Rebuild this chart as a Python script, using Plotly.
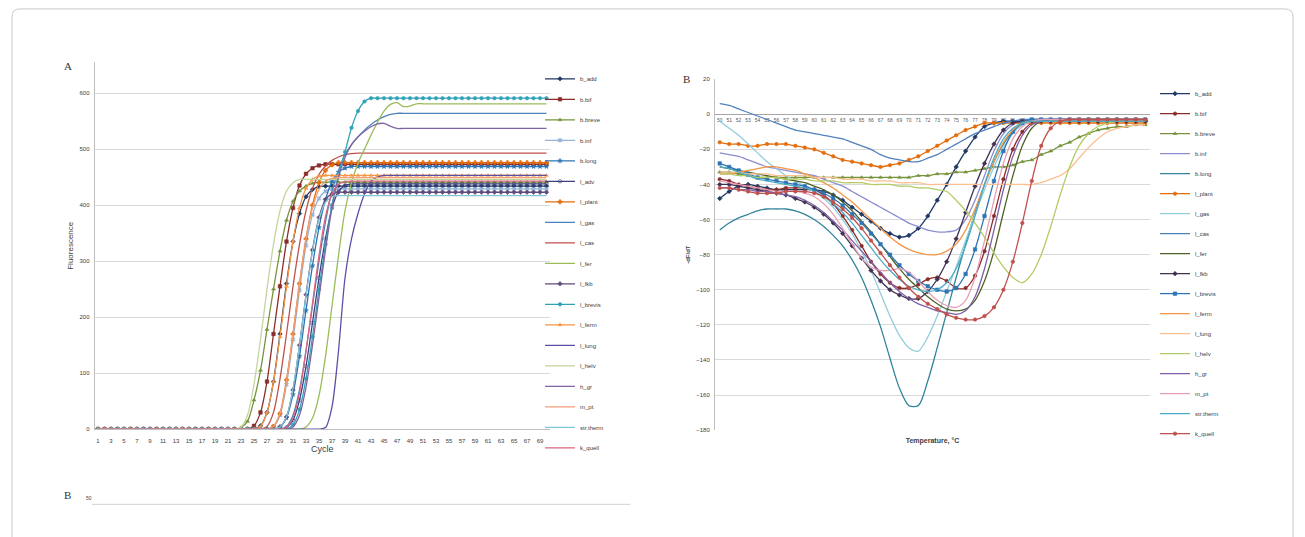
import plotly.graph_objects as go

# ---------------- Panel A: amplification curves ----------------
N_CYCLES = 70
CYCLES = list(range(1, N_CYCLES + 1))
CYCLE_TICKS = list(range(1, 70, 2))
FLUOR_TICKS = [0, 100, 200, 300, 400, 500, 600]


def amp(lead, rise):
    """Baseline of zeros for `lead` cycles, the measured rise, then the plateau held."""
    return [0] * lead + rise + [rise[-1]] * (N_CYCLES - lead - len(rise))


AMP_B_ADD = amp(25, [6, 30, 85, 170, 260, 335, 385, 415, 428, 433, 434])
AMP_B_BIF = amp(24, [6, 30, 85, 170, 255, 335, 395, 435, 456, 466, 471, 473])
AMP_B_BREVE = amp(22, [3, 14, 52, 105, 178, 250, 318, 373, 407, 425, 434, 439, 441])
AMP_B_INF = amp(27, [5, 25, 80, 160, 248, 328, 383, 412, 425, 429])
AMP_B_LONG = amp(28, [4, 20, 62, 130, 212, 292, 360, 410, 442, 459, 466, 469])
AMP_L_ADV = amp(29, [3, 16, 52, 112, 190, 270, 340, 395, 424, 435, 438])
AMP_L_PLANT = amp(27, [5, 28, 88, 170, 260, 340, 400, 440, 462, 472, 476])
AMP_L_GAS = amp(29, [5, 25, 70, 140, 220, 300, 370, 425, 462, 490, 508, 522, 534, 544, 552, 558, 562, 564])
AMP_L_CAS = amp(26, [5, 30, 90, 170, 255, 330, 390, 430, 455, 470, 480, 486, 490, 492, 493])
AMP_L_FER = amp(32, [4, 20, 60, 130, 220, 310, 390, 440, 475, 500, 525, 548, 568, 580, 583, 576, 577, 581])
AMP_L_FKB = amp(28, [4, 22, 70, 150, 240, 320, 378, 410, 420, 423])
AMP_L_BREVIS = amp(30, [8, 35, 90, 165, 250, 330, 400, 455, 495, 538, 568, 585, 591])
AMP_L_FERM = amp(25, [5, 30, 85, 165, 255, 335, 395, 430, 446, 452, 453])
AMP_L_LUNG = amp(35, [3, 40, 140, 270, 340, 385, 420, 443, 450, 453])
AMP_L_HELV = amp(22, [4, 25, 80, 160, 250, 330, 390, 425, 440, 446])
AMP_H_GR = amp(30, [4, 25, 75, 150, 235, 320, 395, 450, 485, 508, 522, 532, 540, 545, 546, 541, 537])
AMP_M_PT = amp(27, [5, 28, 85, 170, 260, 340, 395, 428, 443, 448, 449])
AMP_STR_THERM = amp(28, [4, 22, 72, 150, 238, 318, 375, 405, 415, 417])
AMP_K_QUELL = amp(29, [4, 20, 65, 140, 225, 310, 380, 420, 437, 442, 443])

# name, values, colour, marker symbol (None = plain line)
AMP_SERIES = [
    ("b_add", AMP_B_ADD, "#1F3864", "diamond"),
    ("b.bif", AMP_B_BIF, "#8B2C2A", "square"),
    ("b.breve", AMP_B_BREVE, "#77933C", "triangle-up"),
    ("b.inf", AMP_B_INF, "#95B3D7", "x"),
    ("b.long", AMP_B_LONG, "#2E75B6", "star"),
    ("l_adv", AMP_L_ADV, "#3F3F7F", "circle-open"),
    ("l_plant", AMP_L_PLANT, "#E46C0A", "cross"),
    ("l_gas", AMP_L_GAS, "#4F81BD", None),
    ("l_cas", AMP_L_CAS, "#C0504D", None),
    ("l_fer", AMP_L_FER, "#9BBB59", None),
    ("l_fkb", AMP_L_FKB, "#604A7B", "diamond"),
    ("l_brevis", AMP_L_BREVIS, "#31A2B8", "circle"),
    ("l_ferm", AMP_L_FERM, "#F79646", "triangle-up"),
    ("l_lung", AMP_L_LUNG, "#5B4FA8", None),
    ("l_helv", AMP_L_HELV, "#C3D69B", None),
    ("h_gr", AMP_H_GR, "#8064A2", None),
    ("m_pt", AMP_M_PT, "#F2A07B", None),
    ("str.therm", AMP_STR_THERM, "#7FC6D6", None),
    ("k_quell", AMP_K_QUELL, "#D9667F", None),
]

# ---------------- Panel B: melting curves (-dF/dT) ----------------
TEMPS = list(range(50, 96))
DFDT_TICKS = list(range(-180, 21, 20))

MELT_B_ADD = [-48, -44, -41, -40, -41, -42, -43, -43, -43, -43, -43, -44, -46, -49, -53, -57,
              -61, -65, -68, -70, -69, -65, -58, -49, -40, -30, -21, -13, -7, -5, -4,
              -4, -4, -4, -4, -4, -4, -4, -4, -4, -4, -4, -4, -4, -4, -4]
MELT_B_BIF = [-37, -38, -40, -41, -42, -43, -43, -42, -42, -42, -43, -46, -51, -58, -66, -75,
              -84, -91, -96, -99, -99, -97, -94, -93, -95, -99, -99, -92, -78, -58, -37,
              -20, -10, -5, -4, -4, -4, -4, -4, -4, -4, -4, -4, -4, -4, -4]
MELT_B_BREVE = [-33, -33, -34, -35, -36, -36, -36, -36, -36, -36, -36, -36, -36, -36, -36, -36,
                -36, -36, -36, -36, -36, -35, -35, -34, -34, -33, -33, -32, -31, -30, -30,
                -29, -27, -26, -23, -21, -18, -16, -13, -11, -9, -8, -7, -7, -6, -6]
MELT_B_INF = [-22, -23, -24, -26, -28, -30, -31, -32, -33, -34, -35, -37, -39, -41, -44, -47,
              -50, -53, -56, -59, -62, -64, -66, -67, -67, -66, -60, -49, -35, -21, -11,
              -6, -4, -3, -3, -3, -3, -3, -3, -3, -3, -3, -3, -3, -3, -3]
MELT_B_LONG = [-66, -62, -59, -57, -55, -54, -54, -54, -55, -57, -60, -64, -69, -75, -83, -93,
               -106, -121, -139, -156, -166, -166, -152, -133, -113, -93, -74, -56, -40, -27, -17,
               -10, -6, -4, -3, -3, -3, -3, -3, -3, -3, -3, -3, -3, -3, -3]
MELT_L_PLANT = [-16, -17, -17, -18, -18, -17, -17, -17, -18, -19, -20, -22, -24, -26, -27, -28,
                -29, -30, -29, -28, -26, -24, -21, -18, -15, -12, -9, -7, -5, -5, -5,
                -5, -5, -5, -5, -5, -5, -5, -5, -5, -5, -5, -5, -5, -5, -5]
MELT_L_GAS = [-4, -8, -12, -17, -22, -27, -31, -35, -38, -41, -44, -48, -53, -60, -68, -78,
              -89, -102, -115, -126, -133, -135, -127, -115, -101, -87, -72, -57, -43, -30, -19,
              -11, -6, -4, -3, -3, -3, -3, -3, -3, -3, -3, -3, -3, -3, -3]
MELT_L_CAS = [6, 5, 3, 1, -1, -3, -5, -7, -9, -10, -11, -12, -13, -14, -16, -18,
              -20, -23, -25, -26, -27, -27, -25, -23, -20, -17, -14, -11, -9, -7, -5,
              -4, -3, -3, -3, -3, -3, -3, -3, -3, -3, -3, -3, -3, -3, -3]
MELT_L_FER = [-30, -31, -32, -33, -34, -35, -36, -37, -38, -39, -41, -43, -46, -50, -55, -61,
              -67, -74, -81, -88, -94, -99, -104, -108, -111, -112, -111, -106, -95, -78, -56,
              -35, -18, -8, -4, -3, -3, -3, -3, -3, -3, -3, -3, -3, -3, -3]
MELT_L_FKB = [-40, -40, -41, -42, -43, -44, -45, -46, -48, -50, -53, -57, -62, -68, -75, -82,
              -89, -95, -100, -103, -105, -105, -101, -94, -84, -71, -56, -41, -28, -17, -9,
              -5, -4, -4, -4, -4, -4, -4, -4, -4, -4, -4, -4, -4, -4, -4]
MELT_L_BREVIS = [-28, -30, -32, -34, -36, -37, -38, -39, -40, -41, -43, -45, -48, -52, -57, -62,
                 -68, -74, -80, -86, -91, -95, -98, -100, -101, -99, -91, -77, -58, -38, -21,
                 -10, -5, -3, -3, -3, -3, -3, -3, -3, -3, -3, -3, -3, -3, -3]
MELT_L_FERM = [-34, -34, -33, -32, -31, -30, -30, -31, -32, -34, -36, -39, -42, -46, -50, -55,
               -60, -65, -70, -74, -77, -79, -80, -80, -78, -74, -66, -54, -40, -27, -16,
               -9, -5, -4, -4, -4, -4, -4, -4, -4, -4, -4, -4, -4, -4, -4]
MELT_L_LUNG = [-33, -33, -33, -34, -34, -34, -35, -35, -35, -35, -36, -36, -36, -37, -37, -37,
               -38, -38, -38, -39, -39, -39, -40, -40, -40, -40, -40, -40, -40, -40, -40,
               -40, -40, -40, -39, -37, -35, -31, -25, -19, -14, -10, -8, -7, -6, -6]
MELT_L_HELV = [-34, -34, -35, -35, -36, -36, -36, -37, -37, -37, -38, -38, -38, -39, -39, -39,
               -40, -40, -40, -41, -41, -42, -42, -43, -44, -49, -55, -62, -70, -79, -87,
               -93, -96, -91, -80, -64, -46, -30, -18, -11, -7, -5, -4, -4, -4, -4]
MELT_H_GR = [-42, -42, -43, -43, -44, -44, -45, -46, -47, -49, -52, -56, -61, -66, -72, -78,
             -84, -90, -96, -101, -105, -108, -110, -112, -113, -114, -112, -104, -88, -66, -43,
             -24, -12, -6, -4, -3, -3, -3, -3, -3, -3, -3, -3, -3, -3, -3]
MELT_M_PT = [-38, -39, -40, -41, -42, -43, -44, -44, -44, -45, -47, -51, -57, -65, -74, -82,
             -87, -89, -89, -88, -90, -95, -101, -106, -109, -110, -106, -93, -72, -49, -28,
             -14, -7, -4, -3, -3, -3, -3, -3, -3, -3, -3, -3, -3, -3, -3]
MELT_STR_THERM = [-30, -31, -33, -35, -37, -38, -39, -40, -41, -42, -44, -47, -51, -56, -62, -69,
                  -76, -83, -89, -94, -98, -100, -101, -100, -96, -88, -75, -58, -40, -25, -14,
                  -8, -5, -4, -4, -4, -4, -4, -4, -4, -4, -4, -4, -4, -4, -4]
MELT_K_QUELL = [-42, -42, -43, -44, -45, -45, -45, -44, -44, -44, -45, -47, -50, -54, -59, -65,
                -72, -79, -86, -93, -99, -104, -108, -111, -114, -116, -117, -117, -115, -110, -100,
                -84, -62, -38, -18, -8, -4, -3, -3, -3, -3, -3, -3, -3, -3, -3]

MELT_SERIES = [
    ("b_add", MELT_B_ADD, "#1F3864", "diamond"),
    ("b.bif", MELT_B_BIF, "#8B2C2A", "circle"),
    ("b.breve", MELT_B_BREVE, "#77933C", "triangle-up"),
    ("b.inf", MELT_B_INF, "#8C8CD0", None),
    ("b.long", MELT_B_LONG, "#31859C", None),
    ("l_plant", MELT_L_PLANT, "#E46C0A", "circle"),
    ("l_gas", MELT_L_GAS, "#92CDDC", None),
    ("l_cas", MELT_L_CAS, "#4F81BD", None),
    ("l_fer", MELT_L_FER, "#4F6228", None),
    ("l_fkb", MELT_L_FKB, "#403152", "diamond"),
    ("l_brevis", MELT_L_BREVIS, "#2E75B6", "square"),
    ("l_ferm", MELT_L_FERM, "#F79646", None),
    ("l_lung", MELT_L_LUNG, "#FAC090", None),
    ("l_helv", MELT_L_HELV, "#B3CC66", None),
    ("h_gr", MELT_H_GR, "#7F5FA8", None),
    ("m_pt", MELT_M_PT, "#E6A0B8", None),
    ("str.therm", MELT_STR_THERM, "#4BACC6", None),
    ("k_quell", MELT_K_QUELL, "#C0504D", "circle"),
]

W, H = 1305, 537
FONT = "Liberation Sans, Arial, sans-serif"
SERIF = "Liberation Serif, Times New Roman, serif"
TXT = "#404040"
GRID = "#D9D9D9"
CLEAR = "rgba(0,0,0,0)"


def px_x(x):
    return x / W


def px_y(y):
    return 1 - y / H


fig = go.Figure()

# temperature category labels sit along the 0 line, beneath the curves
fig.add_trace(go.Scatter(
    x=TEMPS, y=[-4] * len(TEMPS), mode="text", text=[str(t) for t in TEMPS],
    textfont=dict(size=5, color="#595959", family=FONT),
    xaxis="x2", yaxis="y2", showlegend=False, hoverinfo="skip",
))


def add_series(series, xs, xa, ya, legend_id):
    for name, vals, color, sym in series:
        mode = "lines+markers" if sym else "lines"
        fig.add_trace(go.Scatter(
            x=xs, y=vals, name=name, mode=mode,
            line=dict(color=color, width=1.3, shape="spline", smoothing=0.8),
            marker=dict(symbol=sym or "circle", size=3.5, color=color,
                        line=dict(width=0.6, color=color)),
            xaxis=xa, yaxis=ya, legend=legend_id,
            legendgroup=legend_id + name,
        ))


add_series(AMP_SERIES, CYCLES, "x", "y", "legend")
add_series(MELT_SERIES, TEMPS, "x2", "y2", "legend2")

tickfont = dict(size=6, color=TXT, family=FONT)

fig.update_layout(
    width=W, height=H,
    margin=dict(l=0, r=0, t=0, b=0),
    paper_bgcolor="white", plot_bgcolor="white",
    font=dict(family=FONT, color=TXT),
    xaxis=dict(domain=[px_x(94.75), px_x(549.75)], range=[0.5, 70.5],
               tickmode="array", tickvals=CYCLE_TICKS, showgrid=False,
               showline=True, linecolor="#BFBFBF", linewidth=1,
               ticks="outside", ticklen=6, tickcolor=CLEAR, tickfont=tickfont,
               zeroline=False,
               title=dict(text="Cycle", font=dict(size=9, color=TXT), standoff=2),
               anchor="y"),
    yaxis=dict(domain=[px_y(431), px_y(60)], range=[0, 655],
               tickmode="array", tickvals=FLUOR_TICKS, showgrid=True,
               gridcolor=GRID, gridwidth=1, showline=True, linecolor="#BFBFBF",
               ticks="outside", ticklen=3, tickcolor=CLEAR, tickfont=tickfont,
               zeroline=False,
               title=dict(text="Fluorescence", font=dict(size=8, color=TXT), standoff=4),
               anchor="x"),
    xaxis2=dict(domain=[px_x(715), px_x(1150)], range=[49.5, 95.5],
                showticklabels=False, showgrid=False, showline=False, ticks="",
                zeroline=False,
                title=dict(text="<b>Temperature, °C</b>", font=dict(size=7, color=TXT), standoff=7),
                anchor="y2"),
    yaxis2=dict(domain=[px_y(432), px_y(77)], range=[-180, 20],
                tickmode="array", tickvals=DFDT_TICKS, showgrid=True,
                gridcolor=GRID, gridwidth=1, showline=True, linecolor="#BFBFBF",
                ticks="outside", ticklen=3, tickcolor=CLEAR, tickfont=tickfont,
                title=dict(text="<b>-dF/dT</b>", font=dict(size=6, color=TXT), standoff=5),
                anchor="x2",
                zeroline=True, zerolinecolor="#A6A6A6", zerolinewidth=1),
    legend=dict(x=px_x(540), y=px_y(62), xanchor="left", yanchor="top",
                font=dict(size=6, color=TXT), tracegroupgap=1.5, itemwidth=30,
                bgcolor=CLEAR),
    legend2=dict(x=px_x(1155), y=px_y(77), xanchor="left", yanchor="top",
                 font=dict(size=6, color=TXT), tracegroupgap=1, itemwidth=30,
                 bgcolor=CLEAR),
    annotations=[
        dict(text="A", x=px_x(62), y=px_y(56), xref="paper", yref="paper",
             showarrow=False, font=dict(size=11, family=SERIF, color="#333333")),
        dict(text="B", x=px_x(686), y=px_y(69), xref="paper", yref="paper",
             showarrow=False, font=dict(size=11, family=SERIF, color="#333333")),
        dict(text="B", x=px_x(62), y=px_y(506), xref="paper", yref="paper",
             showarrow=False, font=dict(size=11, family=SERIF, color="#333333")),
        dict(text="50", x=px_x(84), y=px_y(506), xref="paper", yref="paper",
             showarrow=False, font=dict(size=5, color=TXT)),
    ],
    shapes=[
        # outer frame
        dict(type="path", xref="paper", yref="paper", layer="below",
             path=(f"M {px_x(12)} {px_y(560)} L {px_x(12)} {px_y(14)} "
                   f"Q {px_x(12)} {px_y(6)} {px_x(20)} {px_y(6)} "
                   f"L {px_x(1285)} {px_y(6)} Q {px_x(1293)} {px_y(6)} {px_x(1293)} {px_y(14)} "
                   f"L {px_x(1293)} {px_y(560)}"),
             line=dict(color="#C8C8C8", width=1)),
        # top gridline of the next panel
        dict(type="line", xref="paper", yref="paper",
             x0=px_x(92), x1=px_x(630), y0=px_y(507), y1=px_y(507),
             line=dict(color="#D0D0D0", width=1)),
    ],
)

fig.write_html("out.html")
